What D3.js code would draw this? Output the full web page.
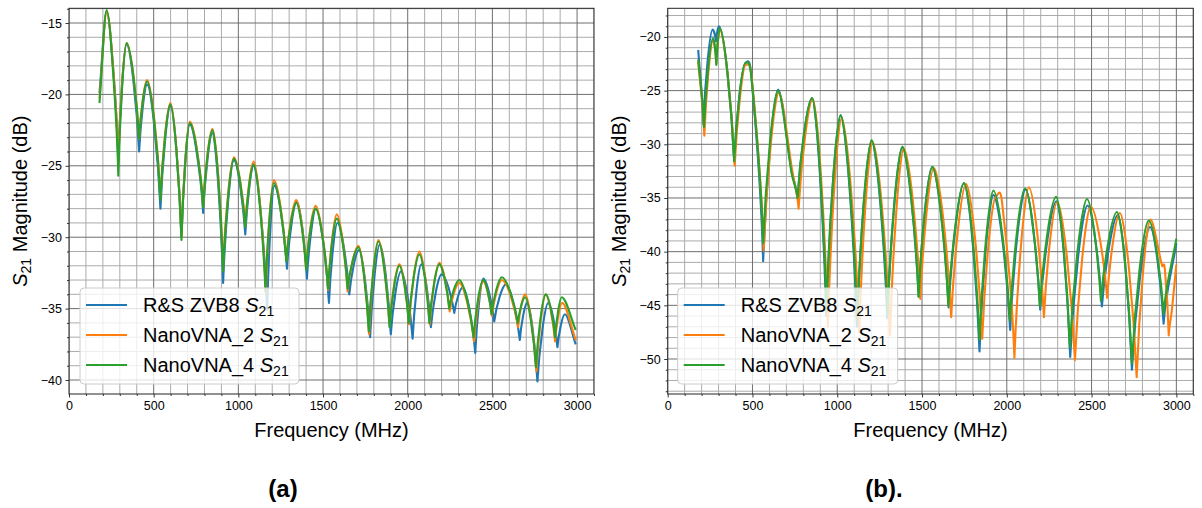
<!DOCTYPE html>
<html>
<head>
<meta charset="utf-8">
<script src="https://cdn.jsdelivr.net/npm/d3@7"></script>
<style>
  body { margin: 0; background: #fff; }
  svg { font-family: "Liberation Sans", Arial, Helvetica, sans-serif; }
</style>
</head>
<body>
<svg id="chart" width="1202" height="508"></svg>
<script>
// legend names, in drawing order
var seriesNames = ["R&S ZVB8", "NanoVNA_2", "NanoVNA_4"];

// panel (a): turning points [MHz, dB]
var zvb8A = [[180,-19.9],[222,-14.2],[250,-16.6],[291,-24.6],[340,-16.5],[414,-24.0],[461,-19.3],[540,-28.0],
  [599,-20.8],[664,-30.0],[713,-22.1],[752,-23.9],[792,-28.3],[847,-22.7],[910,-33.2],[974,-24.6],[1041,-29.8],
  [1090,-25.0],[1170,-35.1],[1212,-26.4],[1287,-32.2],[1345,-27.5],[1405,-32.9],[1458,-28.0],[1535,-34.6],
  [1585,-29.0],[1655,-34.0],[1712,-30.9],[1778,-37.0],[1835,-30.5],[1900,-36.8],[1960,-32.4],[2029,-37.1],
  [2080,-31.9],[2137,-36.3],[2200,-32.6],[2275,-35.3],[2325,-33.5],[2399,-38.1],[2446,-32.9],[2511,-35.9],
  [2580,-33.3],[2662,-37.2],[2705,-34.6],[2766,-40.1],[2830,-34.6],[2884,-37.7],[2928,-35.4],[2992,-37.5]];
var nano2A = [[180,-20.3],[222,-14.2],[250,-16.5],[291,-24.8],[340,-16.4],[414,-23.1],[461,-19.0],[540,-27.2],
  [599,-20.6],[664,-30.0],[713,-21.9],[752,-23.6],[792,-27.9],[847,-22.4],[910,-32.0],[974,-24.4],[1041,-29.2],
  [1090,-24.7],[1162,-33.9],[1210,-26.0],[1283,-31.6],[1342,-27.4],[1400,-32.2],[1456,-27.8],[1530,-33.7],
  [1581,-28.4],[1645,-33.8],[1709,-30.6],[1772,-36.8],[1827,-30.2],[1893,-36.2],[1951,-31.9],[2008,-36.1],
  [2069,-31.0],[2130,-36.1],[2187,-31.8],[2248,-35.2],[2304,-33.2],[2392,-37.3],[2446,-33.1],[2497,-35.5],
  [2556,-33.0],[2652,-36.3],[2693,-34.0],[2760,-39.4],[2815,-34.0],[2870,-37.3],[2912,-34.6],[2992,-37.2]];
var nano4A = [[180,-20.6],[222,-14.1],[250,-16.7],[291,-25.7],[340,-16.4],[414,-23.1],[461,-19.1],[540,-27.4],
  [599,-20.7],[664,-30.2],[713,-22.0],[752,-23.7],[792,-27.9],[847,-22.5],[910,-32.4],[974,-24.5],[1041,-29.3],
  [1090,-24.9],[1160,-33.8],[1210,-26.2],[1283,-31.7],[1342,-27.6],[1400,-32.3],[1456,-28.0],[1530,-33.6],
  [1581,-28.7],[1645,-33.6],[1709,-30.7],[1770,-36.6],[1827,-30.3],[1893,-36.3],[1951,-32.0],[2006,-36.0],
  [2069,-31.2],[2128,-36.0],[2187,-31.9],[2245,-35.0],[2304,-33.0],[2389,-37.0],[2446,-33.0],[2495,-35.4],
  [2556,-32.8],[2650,-36.0],[2693,-34.2],[2757,-39.1],[2815,-34.0],[2870,-37.0],[2910,-34.2],[2992,-36.5]];

// panel (b)
var zvb8B = [[180,-21.2],[210,-28.1],[265,-19.3],[285,-20.4],[303,-19.0],[392,-31.5],[459,-22.4],[494,-23.7],
  [563,-40.9],[651,-24.9],[731,-32.5],[766,-35.0],[852,-25.7],[935,-46.0],[1020,-27.3],[1116,-47.0],[1203,-29.7],
  [1295,-46.2],[1384,-30.3],[1480,-44.2],[1561,-32.1],[1657,-45.2],[1748,-33.6],[1839,-49.3],[1921,-34.7],
  [2020,-47.3],[2110,-34.2],[2197,-45.4],[2293,-35.3],[2374,-49.8],[2476,-35.7],[2561,-45.1],[2655,-36.6],
  [2738,-51.0],[2845,-37.7],[2925,-46.7],[3000,-39.2]];
var nano2B = [[180,-22.3],[216,-29.2],[268,-20.3],[287,-22.5],[307,-19.3],[395,-32.0],[461,-22.6],[497,-24.0],
  [566,-39.9],[655,-25.2],[735,-32.5],[772,-36.0],[856,-25.8],[945,-47.0],[1025,-27.6],[1130,-47.5],[1208,-29.8],
  [1311,-47.8],[1392,-30.4],[1490,-44.4],[1570,-32.2],[1672,-46.1],[1760,-33.7],[1855,-48.1],[1935,-34.9],
  [1972,-35.4],[2045,-49.9],[2130,-34.0],[2219,-46.1],[2297,-35.4],[2402,-50.1],[2495,-35.8],[2592,-44.3],
  [2667,-36.4],[2766,-51.7],[2847,-37.0],[2916,-41.3],[2932,-41.6],[2955,-47.8],[2974,-45.4],[3000,-41.2]];
var nano4B = [[180,-22.1],[214,-28.4],[268,-20.1],[287,-22.6],[307,-19.2],[392,-31.6],[459,-22.4],[494,-23.8],
  [563,-39.2],[651,-25.0],[731,-32.7],[766,-35.0],[852,-25.7],[937,-45.5],[1020,-27.3],[1118,-46.5],[1203,-29.6],
  [1297,-45.8],[1384,-30.2],[1480,-44.2],[1561,-32.1],[1655,-45.0],[1748,-33.6],[1839,-48.2],[1921,-34.3],
  [2018,-46.4],[2108,-34.1],[2195,-45.1],[2291,-34.9],[2372,-48.9],[2473,-35.1],[2555,-44.6],[2650,-36.3],
  [2738,-50.4],[2837,-37.1],[2925,-45.8],[3000,-38.8]];

var xTicks = [0, 500, 1000, 1500, 2000, 2500, 3000];
var yTicksA = [-40, -35, -30, -25, -20, -15];
var yTicksB = [-50, -45, -40, -35, -30, -25, -20];

var colour = ["#1f77b4", "#ff7f0e", "#2ca02c"];

var panels = [
  { series: [zvb8A, nano2A, nano4A], yTicks: yTicksA, yDomain: [-40.98, -13.97],
    left: 69, right: 594, top: 8.3, bottom: 394, legendX: 80, legendW: 219, caption: "(a)", captionX: 283 },
  { series: [zvb8B, nano2B, nano4B], yTicks: yTicksB, yDomain: [-53.26, -17.33],
    left: 667.7, right: 1193.3, top: 8.3, bottom: 394, legendX: 677.7, legendW: 220, caption: "(b).", captionX: 884 }
];

// smooth line: rounded at peaks, sharp at dips (like measured |S21| nulls)
function curveDips(context) {
  var pts;
  function handle(p, kind, dx, dy, dir) {
    if (kind === "peak") return [p[0] + dir * 0.3 * dx, p[1]];
    if (kind === "dip") return [p[0] + dir * 0.18 * dx, p[1] - 0.42 * Math.abs(dy)];
    return [p[0] + dir * dx / 3, p[1] + dir * kind * dx / 3];
  }
  return {
    areaStart: function() {}, areaEnd: function() {},
    lineStart: function() { pts = []; },
    point: function(x, y) { pts.push([+x, +y]); },
    lineEnd: function() {
      var n = pts.length;
      if (!n) return;
      var kinds = pts.map(function(p, i) {
        var a = pts[i - 1], b = pts[i + 1];
        if (a && b) {
          if (p[1] <= a[1] && p[1] <= b[1]) return "peak";
          if (p[1] >= a[1] && p[1] >= b[1]) return "dip";
          return (b[1] - a[1]) / (b[0] - a[0]);
        }
        var q = a || b;
        return q ? (q[1] - p[1]) / (q[0] - p[0]) : 0;
      });
      context.moveTo(pts[0][0], pts[0][1]);
      for (var i = 0; i < n - 1; i++) {
        var p = pts[i], q = pts[i + 1], dx = q[0] - p[0], dy = q[1] - p[1];
        var c1 = handle(p, kinds[i], dx, dy, 1), c2 = handle(q, kinds[i + 1], dx, dy, -1);
        context.bezierCurveTo(c1[0], c1[1], c2[0], c2[1], q[0], q[1]);
      }
    }
  };
}

var svg = d3.select("#chart");

panels.forEach(function(P, pi) {
  var x = d3.scaleLinear().domain([0, 3100]).range([P.left, P.right]);
  var y = d3.scaleLinear().domain(P.yDomain).range([P.bottom, P.top]);
  var g = svg.append("g");

  var clipId = "clip" + pi;
  g.append("clipPath").attr("id", clipId).append("rect")
    .attr("x", P.left).attr("y", P.top).attr("width", P.right - P.left).attr("height", P.bottom - P.top);

  var xMinor = d3.range(0, 3101, 100).filter(function(v) { return v % 500 !== 0; });
  var yMinor = d3.range(Math.ceil(P.yDomain[0]), P.yDomain[1], 1).filter(function(v) { return v % 5 !== 0; });

  // grid: minor then major
  var grid = g.append("g").attr("clip-path", "url(#" + clipId + ")");
  grid.selectAll(".xmin").data(xMinor).enter().append("line")
    .attr("x1", x).attr("x2", x).attr("y1", P.top).attr("y2", P.bottom)
    .attr("stroke", "#ababab").attr("stroke-width", 1);
  grid.selectAll(".ymin").data(yMinor).enter().append("line")
    .attr("y1", y).attr("y2", y).attr("x1", P.left).attr("x2", P.right)
    .attr("stroke", "#ababab").attr("stroke-width", 1);
  grid.selectAll(".xmaj").data(xTicks).enter().append("line")
    .attr("x1", x).attr("x2", x).attr("y1", P.top).attr("y2", P.bottom)
    .attr("stroke", "#6e6e6e").attr("stroke-width", 1);
  grid.selectAll(".ymaj").data(P.yTicks).enter().append("line")
    .attr("y1", y).attr("y2", y).attr("x1", P.left).attr("x2", P.right)
    .attr("stroke", "#6e6e6e").attr("stroke-width", 1);

  // series
  var line = d3.line().x(function(d) { return x(d[0]); }).y(function(d) { return y(d[1]); }).curve(curveDips);
  var lines = g.append("g").attr("clip-path", "url(#" + clipId + ")");
  P.series.forEach(function(s, i) {
    lines.append("path").datum(s).attr("d", line)
      .attr("fill", "none").attr("stroke", colour[i]).attr("stroke-width", 2.1)
      .attr("stroke-linejoin", "round");
  });

  // axes
  g.append("g").attr("transform", "translate(0," + P.bottom + ")")
    .call(d3.axisBottom(x).tickValues(xTicks).tickFormat(d3.format("d")).tickSize(3.5).tickPadding(3.5));
  g.append("g").attr("transform", "translate(0," + P.bottom + ")")
    .call(d3.axisBottom(x).tickValues(xMinor).tickFormat("").tickSize(2));
  g.append("g").attr("transform", "translate(" + P.left + ",0)")
    .call(d3.axisLeft(y).tickValues(P.yTicks).tickSize(3.5).tickPadding(3.5));
  g.append("g").attr("transform", "translate(" + P.left + ",0)")
    .call(d3.axisLeft(y).tickValues(yMinor).tickFormat("").tickSize(2));
  g.selectAll(".domain").remove();
  g.selectAll(".tick line").attr("stroke", "#222").attr("stroke-width", 0.9);
  g.selectAll(".tick text").attr("font-family", "Liberation Sans, Arial, sans-serif")
    .attr("font-size", 12.5).attr("fill", "#000");

  g.append("rect").attr("x", P.left).attr("y", P.top)
    .attr("width", P.right - P.left).attr("height", P.bottom - P.top)
    .attr("fill", "none").attr("stroke", "#222").attr("stroke-width", 1);

  // axis labels
  var cy = (P.top + P.bottom) / 2;
  var yl = g.append("text").attr("transform", "translate(" + (P.left - 42) + "," + cy + ") rotate(-90)")
    .attr("text-anchor", "middle").attr("font-size", 20);
  yl.append("tspan").attr("font-style", "italic").text("S");
  yl.append("tspan").attr("font-size", 14).attr("dy", 4).text("21");
  yl.append("tspan").attr("dy", -4).text(" Magnitude (dB)");

  g.append("text").attr("x", (P.left + P.right) / 2).attr("y", 437)
    .attr("text-anchor", "middle").attr("font-size", 20).text("Frequency (MHz)");

  // legend
  var lg = g.append("g").attr("transform", "translate(" + P.legendX + ",288)");
  lg.append("rect").attr("width", P.legendW).attr("height", 96).attr("rx", 4)
    .attr("fill", "#fff").attr("fill-opacity", 0.8).attr("stroke", "#cccccc").attr("stroke-width", 1);
  seriesNames.forEach(function(name, i) {
    var ry = 17 + i * 30;
    lg.append("line").attr("x1", 6).attr("x2", 47).attr("y1", ry).attr("y2", ry)
      .attr("stroke", colour[i]).attr("stroke-width", 2.1);
    var t = lg.append("text").attr("x", 63).attr("y", ry + 7).attr("font-size", 20);
    t.append("tspan").text(name + " ");
    t.append("tspan").attr("font-style", "italic").text("S");
    t.append("tspan").attr("font-size", 14).attr("dy", 4).text("21");
  });

  // panel caption
  svg.append("text").attr("x", P.captionX).attr("y", 497).attr("text-anchor", "middle")
    .attr("font-size", 24).attr("font-weight", "bold").text(P.caption);
});
</script>
</body>
</html>
